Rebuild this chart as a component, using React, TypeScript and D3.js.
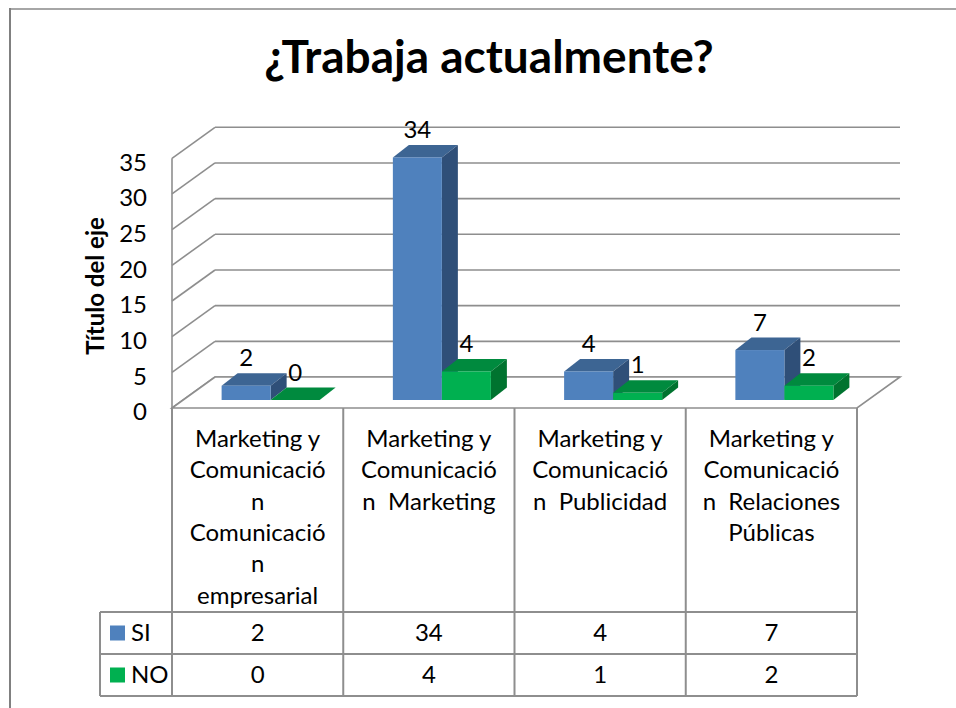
import React from "react";
import * as d3 from "d3";

const categories = [
  "Marketing y Comunicación Comunicación empresarial",
  "Marketing y Comunicación  Marketing",
  "Marketing y Comunicación  Publicidad",
  "Marketing y Comunicación  Relaciones Públicas",
];
const categoryLines = [
  ["Marketing y", "Comunicació", "n", "Comunicació", "n", "empresarial"],
  ["Marketing y", "Comunicació", "n  Marketing"],
  ["Marketing y", "Comunicació", "n  Publicidad"],
  ["Marketing y", "Comunicació", "n  Relaciones", "Públicas"],
];
const seriesNames = ["SI", "NO"];
const siValues = [2, 34, 4, 7];
const noValues = [0, 4, 1, 2];
const yTicks = [0, 5, 10, 15, 20, 25, 30, 35];
const title = "¿Trabaja actualmente?";
const axisTitle = "Título del eje";

const FONT = "Lato, 'Open Sans', sans-serif";
const colors = {
  SI: { front: "#4F81BD", top: "#3D6593", side: "#2F4F78" },
  NO: { front: "#00B050", top: "#008A3E", side: "#00732F" },
};

export default function App() {
  const W = 956, H = 708;
  const left = 172, right = 857, y0 = 408, yTop = 158.3;
  const wallDx = 43, wallDy = -31;
  const offDx = 13, offDy = -8;
  const bDx = 16, bDy = -12.5;

  const y = d3.scaleLinear().domain([0, 35]).range([y0, yTop]);
  const x = d3.scaleBand().domain(categories).range([left, right]).padding(0);
  const xs = d3
    .scaleBand()
    .domain(seriesNames)
    .range([0, x.bandwidth()])
    .paddingInner(0)
    .paddingOuter(0.747);

  const values: Record<string, number[]> = { SI: siValues, NO: noValues };
  const grid = "#8E8E8E";

  const bars: any[] = [];
  categories.forEach((c, i) => {
    seriesNames.forEach((s) => {
      const v = values[s][i];
      const x0 = (x(c) as number) + (xs(s) as number) + offDx;
      const w = xs.bandwidth();
      const yb = y(0) + offDy;
      const yt = y(v) + offDy;
      bars.push({ key: c + s, s, v, x0, w, yb, yt });
    });
  });

  const tableTop = 612, rowH = 42, legendLeft = 100;
  const bandEdges = categories.map((c) => x(c) as number).concat([right]);

  return (
    <svg
      width={W}
      height={H}
      style={{ position: "absolute", left: 0, top: 0, background: "#fff" }}
      fontFamily={FONT}
    >
      <rect x={0} y={0} width={W} height={H} fill="#fff" />
      {/* outer chart border */}
      <line x1={10} y1={9} x2={W + 5} y2={9} stroke="#A6A6A6" strokeWidth={2} />
      <line x1={10} y1={8} x2={10} y2={H + 5} stroke="#808080" strokeWidth={2} />

      {/* title */}
      <text x={489} y={73} textAnchor="middle" fontSize={46} fontWeight="bold" fill="#000">
        {title}
      </text>

      {/* back wall gridlines and left wall lines */}
      {yTicks.map((t) => (
        <g key={"g" + t}>
          <line
            x1={left + wallDx}
            x2={right + wallDx}
            y1={y(t) + wallDy}
            y2={y(t) + wallDy}
            stroke={grid}
            strokeWidth={1.6}
          />
          <line
            x1={left}
            x2={left + wallDx}
            y1={y(t)}
            y2={y(t) + wallDy}
            stroke={grid}
            strokeWidth={1.6}
          />
        </g>
      ))}
      <line x1={left} x2={left} y1={y(35)} y2={y(0)} stroke={grid} strokeWidth={1.6} />

      {/* floor */}
      <polygon
        points={`${left},${y0} ${right},${y0} ${right + wallDx},${y0 + wallDy} ${left + wallDx},${y0 + wallDy}`}
        fill="#fff"
        stroke={grid}
        strokeWidth={1.6}
      />

      {/* tick labels */}
      {yTicks.map((t) => (
        <text key={"t" + t} x={147} y={y(t) + 4} dy="0.35em" textAnchor="end" fontSize={24} fill="#000">
          {t}
        </text>
      ))}

      {/* axis title */}
      <text
        transform={`translate(104,286) rotate(-90)`}
        textAnchor="middle"
        fontSize={24}
        fontWeight="bold"
        fill="#000"
      >
        {axisTitle}
      </text>

      {/* bars */}
      {bars.map((b) => {
        const c = (colors as any)[b.s];
        return (
          <g key={b.key}>
            <polygon
              points={`${b.x0},${b.yt} ${b.x0 + b.w},${b.yt} ${b.x0 + b.w + bDx},${b.yt + bDy} ${b.x0 + bDx},${b.yt + bDy}`}
              fill={c.top}
            />
            <polygon
              points={`${b.x0 + b.w},${b.yt} ${b.x0 + b.w + bDx},${b.yt + bDy} ${b.x0 + b.w + bDx},${b.yb + bDy} ${b.x0 + b.w},${b.yb}`}
              fill={c.side}
            />
            <rect x={b.x0} y={b.yt} width={b.w} height={Math.max(0, b.yb - b.yt)} fill={c.front} />
          </g>
        );
      })}

      {/* value labels */}
      {bars.map((b) => (
        <text
          key={"l" + b.key}
          x={b.x0 + b.w / 2}
          y={b.yt + bDy - 7}
          textAnchor="middle"
          fontSize={24}
          fill="#000"
        >
          {b.v}
        </text>
      ))}

      {/* data table */}
      {bandEdges.map((bx, i) => (
        <line key={"v" + i} x1={bx} x2={bx} y1={y0} y2={tableTop + 2 * rowH} stroke={grid} strokeWidth={2} />
      ))}
      <line x1={legendLeft} x2={legendLeft} y1={tableTop} y2={tableTop + 2 * rowH} stroke={grid} strokeWidth={2} />
      {[0, 1, 2].map((r) => (
        <line
          key={"h" + r}
          x1={legendLeft}
          x2={right}
          y1={tableTop + r * rowH}
          y2={tableTop + r * rowH}
          stroke={grid}
          strokeWidth={2}
        />
      ))}

      {categories.map((c, i) => (
        <g key={"c" + c}>
          {categoryLines[i].map((ln, j) => (
            <text
              key={j}
              x={(x(c) as number) + x.bandwidth() / 2}
              y={447 + j * 31.3}
              textAnchor="middle"
              fontSize={24}
              fill="#000"
              style={{ whiteSpace: "pre" }}
            >
              {ln}
            </text>
          ))}
        </g>
      ))}

      {seriesNames.map((s, r) => {
        const cy = tableTop + r * rowH + rowH / 2;
        return (
          <g key={"row" + s}>
            <rect x={110} y={cy - 7.5} width={15} height={15} fill={(colors as any)[s].front} />
            <text x={131} y={cy} dy="0.35em" fontSize={24} fill="#000">
              {s}
            </text>
            {categories.map((c, i) => (
              <text
                key={c}
                x={(x(c) as number) + x.bandwidth() / 2}
                y={cy}
                dy="0.35em"
                textAnchor="middle"
                fontSize={24}
                fill="#000"
              >
                {values[s][i]}
              </text>
            ))}
          </g>
        );
      })}
    </svg>
  );
}
